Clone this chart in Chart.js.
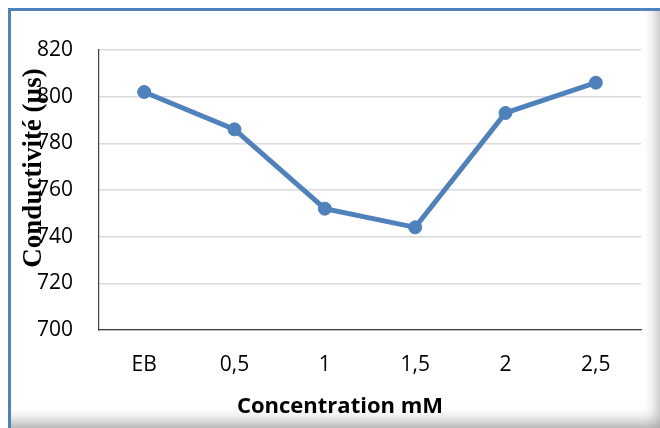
<!DOCTYPE html>
<html>
<head>
<meta charset="utf-8">
<script src="https://cdn.jsdelivr.net/npm/chart.js@4/dist/chart.umd.min.js"></script>
<style>
  html, body { margin: 0; padding: 0; background: #ffffff; }
  #wrap { position: relative; width: 660px; height: 428px; overflow: hidden; background: #ffffff; }
  #frame {
    position: absolute; left: 8px; top: 8px; width: 654px; height: 424px;
    border-left: 3px solid #4f81bd; border-top: 3px solid #4f81bd;
    box-shadow: inset -14px -20px 16px -8px rgba(0,0,0,0.36);
    background: #ffffff;
  }
  canvas { position: absolute; left: 0; top: 0; }
</style>
</head>
<body>
<div id="wrap">
  <div id="frame"></div>
  <canvas id="c" width="660" height="428"></canvas>
</div>
<script>
// Conductivity measured for each inhibitor concentration
const categories = ['EB', '0,5', '1', '1,5', '2', '2,5'];
const conductivity = [802, 786, 752, 744, 793, 806];
const yTicks = [700, 720, 740, 760, 780, 800, 820];

const xTitle = 'Concentration mM';
const yTitle = 'Conductivité (µs)';
const lineBlue = '#4f81bd';

// Axis titles drawn on top of the plot area, as in the Excel layout
const axisTitles = {
  id: 'axisTitles',
  afterDraw(chart) {
    const ctx = chart.ctx;
    ctx.save();
    ctx.fillStyle = '#000000';
    ctx.textAlign = 'center';
    ctx.textBaseline = 'middle';
    ctx.font = 'bold 22px "Open Sans"';
    ctx.fillText(xTitle, 340, 407);
    ctx.translate(34, 168);
    ctx.rotate(-Math.PI / 2);
    ctx.font = 'bold 27px "Liberation Serif"';
    ctx.fillText(yTitle, 0, 0);
    ctx.restore();
  }
};

new Chart(document.getElementById('c'), {
  type: 'line',
  data: {
    labels: categories,
    datasets: [{
      data: conductivity,
      borderColor: lineBlue,
      backgroundColor: lineBlue,
      borderWidth: 5,
      pointRadius: 6.5,
      pointHoverRadius: 6.5,
      pointBorderWidth: 1,
      pointBackgroundColor: lineBlue,
      pointBorderColor: lineBlue,
      tension: 0
    }]
  },
  options: {
    responsive: false,
    animation: false,
    events: [],
    layout: { padding: { left: 0, right: 19, top: 50, bottom: 0 } },
    plugins: { legend: { display: false }, tooltip: { enabled: false } },
    scales: {
      x: {
        offset: true,
        grid: { display: false, drawTicks: false },
        border: { display: true, color: '#404040', width: 1.2 },
        ticks: { color: '#000000', font: { family: 'Open Sans', size: 21 }, padding: 22, maxRotation: 0 },
        afterFit(scale) { scale.height = 98; }
      },
      y: {
        min: 700, max: 820,
        afterBuildTicks(scale) { scale.ticks = yTicks.map(v => ({ value: v })); },
        grid: { color: '#d9d9d9', lineWidth: 1.5, drawTicks: false },
        border: { display: true, color: '#404040', width: 1.2 },
        ticks: { color: '#000000', font: { family: 'Open Sans', size: 21 }, padding: 26 },
        afterFit(scale) { scale.width = 99; }
      }
    }
  },
  plugins: [axisTitles]
});
</script>
</body>
</html>
